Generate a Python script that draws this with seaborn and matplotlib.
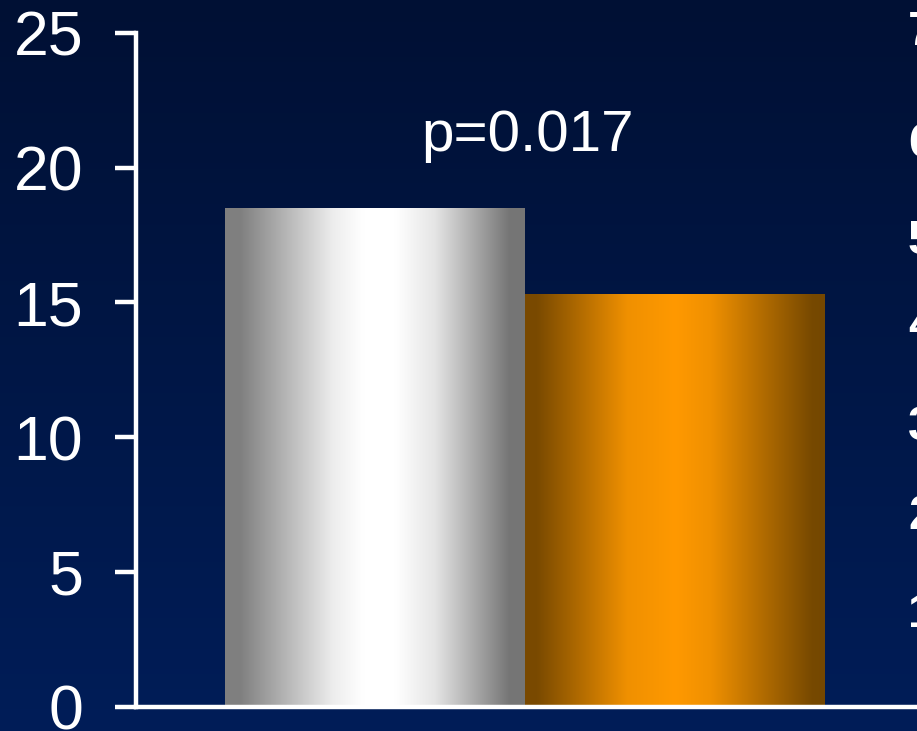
import numpy as np
import pandas as pd
import matplotlib
matplotlib.use("Agg")
import matplotlib.pyplot as plt
import seaborn as sns
from matplotlib.colors import LinearSegmentedColormap

# ---- data ----
groups = ["Group 1", "Group 2"]
values = [18.5, 15.3]
y_ticks = [0, 5, 10, 15, 20, 25]
p_label = "p=0.017"
# neighbouring panel's axis numbers, partly cut off at the right edge
side_labels = ["7", "6", "5", "4", "3", "2", "1"]
side_baselines_px = [45, 157, 254, 339, 440, 529, 627]

sns.set_theme(style="white")
plt.rcParams["font.family"] = ["Liberation Sans", "DejaVu Sans"]

W, H = 917, 731
fig = plt.figure(figsize=(W / 100, H / 100), dpi=100)

# navy vertical gradient background
bg = fig.add_axes([0, 0, 1, 1], zorder=-10)
top = np.array([0, 16, 52]) / 255
bot = np.array([0, 29, 88]) / 255
t = np.linspace(0, 1, 256)[:, None]
grad = top[None, None, :] * (1 - t[..., None]) + bot[None, None, :] * t[..., None]
grad = np.repeat(grad, 2, axis=1)
bg.imshow(grad, aspect="auto", extent=[0, 1, 0, 1], interpolation="bicubic")
bg.set_axis_off()

# main axes geometry (pixels)
x_spine, y0_px, y25_px = 136, 706.7, 32.7
right_px = W + 10
ax = fig.add_axes([x_spine / W, (H - y0_px) / H,
                   (right_px - x_spine) / W, (y0_px - y25_px) / H])
ax.patch.set_alpha(0)

df = pd.DataFrame({"group": groups, "value": values})
sns.barplot(data=df, x="group", y="value", width=1.0, ax=ax,
            color="grey", errorbar=None)

# horizontal metallic gradients for each bar
grey_cmap = LinearSegmentedColormap.from_list("silver", [
    (0.00, (0.50, 0.50, 0.50)),
    (0.05, (0.50, 0.50, 0.50)),
    (0.36, (0.93, 0.93, 0.93)),
    (0.46, (1.00, 1.00, 1.00)),
    (0.57, (1.00, 1.00, 1.00)),
    (0.70, (0.90, 0.90, 0.90)),
    (0.95, (0.46, 0.46, 0.46)),
    (1.00, (0.46, 0.46, 0.46)),
])
orange_cmap = LinearSegmentedColormap.from_list("amber", [
    (0.00, (0.478, 0.290, 0.0)),
    (0.04, (0.478, 0.290, 0.0)),
    (0.34, (0.94, 0.565, 0.0)),
    (0.50, (1.00, 0.60, 0.0)),
    (0.62, (0.94, 0.565, 0.0)),
    (0.96, (0.465, 0.285, 0.0)),
    (1.00, (0.455, 0.28, 0.0)),
])
ramp = np.linspace(0, 1, 512)[None, :]
for patch, cmap in zip(ax.patches, [grey_cmap, orange_cmap]):
    x0 = patch.get_x()
    x1 = x0 + patch.get_width()
    h = patch.get_height()
    patch.set_facecolor("none")
    patch.set_edgecolor("none")
    im = ax.imshow(ramp, cmap=cmap, extent=[x0, x1, 0, h], aspect="auto",
                   interpolation="bicubic", zorder=2)
    im.set_clip_path(patch)

# scales: one category unit = 300 px, categories centred at 375 and 675 px
unit = 300.0
ax.set_xlim(-(375 - x_spine) / unit, (right_px - 375) / unit)
ax.set_ylim(0, 25)
ax.set_yticks(y_ticks)
ax.set_xticks([])
ax.set_xlabel("")
ax.set_ylabel("")

for side in ["top", "right"]:
    ax.spines[side].set_visible(False)
for side in ["left", "bottom"]:
    ax.spines[side].set_color("white")
    ax.spines[side].set_linewidth(3.2)
    ax.spines[side].set_zorder(5)
ax.tick_params(axis="y", direction="out", length=15, width=3.2, color="white",
               labelsize=45, labelcolor="white", pad=23, left=True)

ax.text(0.507, 20.6, p_label, ha="center", va="baseline", fontsize=42,
        color="white", zorder=6)

for lab, yb in zip(side_labels, side_baselines_px):
    fig.text(908 / W, 1 - yb / H, lab, ha="left", va="baseline",
             fontsize=35, fontweight="bold", color="white")

fig.savefig("out.png", dpi=100)
